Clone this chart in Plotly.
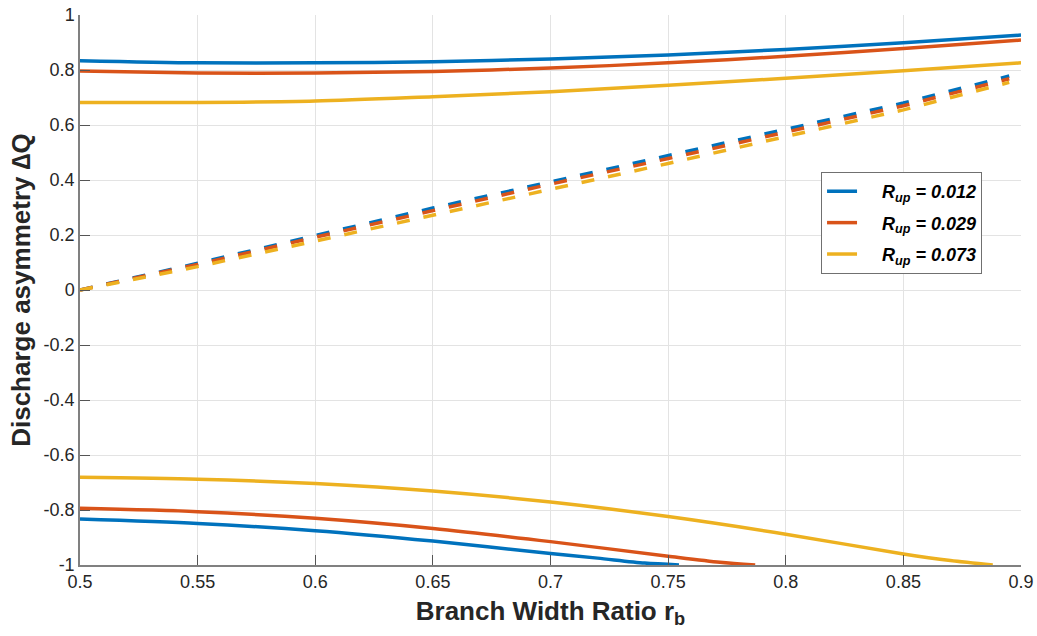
import plotly.graph_objects as go

# ---- data ----
legend_names = ["R<sub>up</sub> = 0.012", "R<sub>up</sub> = 0.029", "R<sub>up</sub> = 0.073"]
colors = ["#0072BD", "#D95319", "#EDB120"]

# upper solid branch
up_x = [0.5, 0.55, 0.6, 0.65, 0.7, 0.75, 0.8, 0.85, 0.9]
up_blue = [0.834, 0.826, 0.826, 0.830, 0.840, 0.855, 0.875, 0.899, 0.927]
up_red = [0.796, 0.789, 0.789, 0.795, 0.807, 0.826, 0.850, 0.878, 0.909]
up_yellow = [0.682, 0.682, 0.687, 0.703, 0.721, 0.745, 0.770, 0.797, 0.826]

# lower solid branch
lo_blue_x = [0.5, 0.55, 0.6, 0.65, 0.7, 0.72, 0.74, 0.7546]
lo_blue = [-0.833, -0.849, -0.875, -0.913, -0.958, -0.975, -0.993, -1.0]
lo_red_x = [0.5, 0.55, 0.6, 0.65, 0.7, 0.75, 0.772, 0.787]
lo_red = [-0.794, -0.806, -0.830, -0.867, -0.915, -0.968, -0.990, -1.0]
lo_yellow_x = [0.5, 0.55, 0.6, 0.65, 0.7, 0.75, 0.8, 0.85, 0.87, 0.888]
lo_yellow = [-0.681, -0.688, -0.704, -0.731, -0.771, -0.824, -0.888, -0.960, -0.984, -1.0]

# dashed middle branch
mid_x = [0.5, 0.55, 0.6, 0.65, 0.7, 0.75, 0.8, 0.85, 0.895]
mid_blue = [0.0, 0.097, 0.198, 0.298, 0.393, 0.488, 0.585, 0.680, 0.778]
mid_red = [0.0, 0.093, 0.192, 0.290, 0.385, 0.478, 0.575, 0.670, 0.768]
mid_yellow = [0.0, 0.085, 0.178, 0.272, 0.365, 0.460, 0.558, 0.655, 0.755]

x_ticks = [0.5, 0.55, 0.6, 0.65, 0.7, 0.75, 0.8, 0.85, 0.9]
x_tick_text = ["0.5", "0.55", "0.6", "0.65", "0.7", "0.75", "0.8", "0.85", "0.9"]
y_ticks = [-1, -0.8, -0.6, -0.4, -0.2, 0, 0.2, 0.4, 0.6, 0.8, 1]
y_tick_text = ["-1", "-0.8", "-0.6", "-0.4", "-0.2", "0", "0.2", "0.4", "0.6", "0.8", "1"]

fig = go.Figure()
LW = 3.5

ups = [up_blue, up_red, up_yellow]
los = [(lo_blue_x, lo_blue), (lo_red_x, lo_red), (lo_yellow_x, lo_yellow)]
mids = [mid_blue, mid_red, mid_yellow]

for i in range(3):
    fig.add_trace(go.Scatter(x=up_x, y=ups[i], mode="lines",
                             name="&nbsp;&nbsp;&nbsp;&nbsp;<b><i>" + legend_names[i] + "</i></b>",
                             line=dict(color=colors[i], width=LW, shape="spline", smoothing=0.8),
                             legendgroup=str(i)))
for i in range(3):
    fig.add_trace(go.Scatter(x=los[i][0], y=los[i][1], mode="lines", showlegend=False,
                             line=dict(color=colors[i], width=LW, shape="spline", smoothing=0.8),
                             legendgroup=str(i)))
for i in range(3):
    fig.add_trace(go.Scatter(x=mid_x, y=mids[i], mode="lines", showlegend=False,
                             line=dict(color=colors[i], width=LW, dash="13px,14px"),
                             legendgroup=str(i)))

font_family = "Liberation Sans, Arial, Helvetica, sans-serif"

fig.update_layout(
    width=1037, height=636,
    margin=dict(l=80, r=16, t=15, b=71, autoexpand=False),
    paper_bgcolor="white", plot_bgcolor="white",
    font=dict(family=font_family, color="#262626"),
    showlegend=True,
    legend=dict(
        x=0.7875, y=0.7145, xanchor="left", yanchor="top",
        bgcolor="white", bordercolor="#707070", borderwidth=1,
        font=dict(size=18, family=font_family, color="#000000"),
        tracegroupgap=5,
    ),
    xaxis=dict(
        range=[0.5, 0.9], tickvals=x_ticks, ticktext=x_tick_text,
        showgrid=True, gridcolor="#e3e3e3", gridwidth=1,
        showline=True, linecolor="#808080", linewidth=1.5,
        ticks="inside", ticklen=10, tickcolor="#555555", tickwidth=1,
        tickfont=dict(size=18, color="#262626"),
        zeroline=False, mirror=False, automargin=False,
        title=dict(text="<b>Branch Width Ratio r<sub>b</sub></b>", font=dict(size=26, color="#262626"), standoff=10),
    ),
    yaxis=dict(
        range=[-1, 1], tickvals=y_ticks, ticktext=y_tick_text,
        showgrid=True, gridcolor="#e3e3e3", gridwidth=1,
        showline=True, linecolor="#808080", linewidth=1.5,
        ticks="inside", ticklen=10, tickcolor="#555555", tickwidth=1,
        tickfont=dict(size=18, color="#262626"),
        zeroline=False, mirror=False, automargin=False,
        title=dict(text="<b>Discharge asymmetry ∆Q</b>", font=dict(size=26, color="#262626"), standoff=6),
    ),
)

fig.write_html("out.html")
